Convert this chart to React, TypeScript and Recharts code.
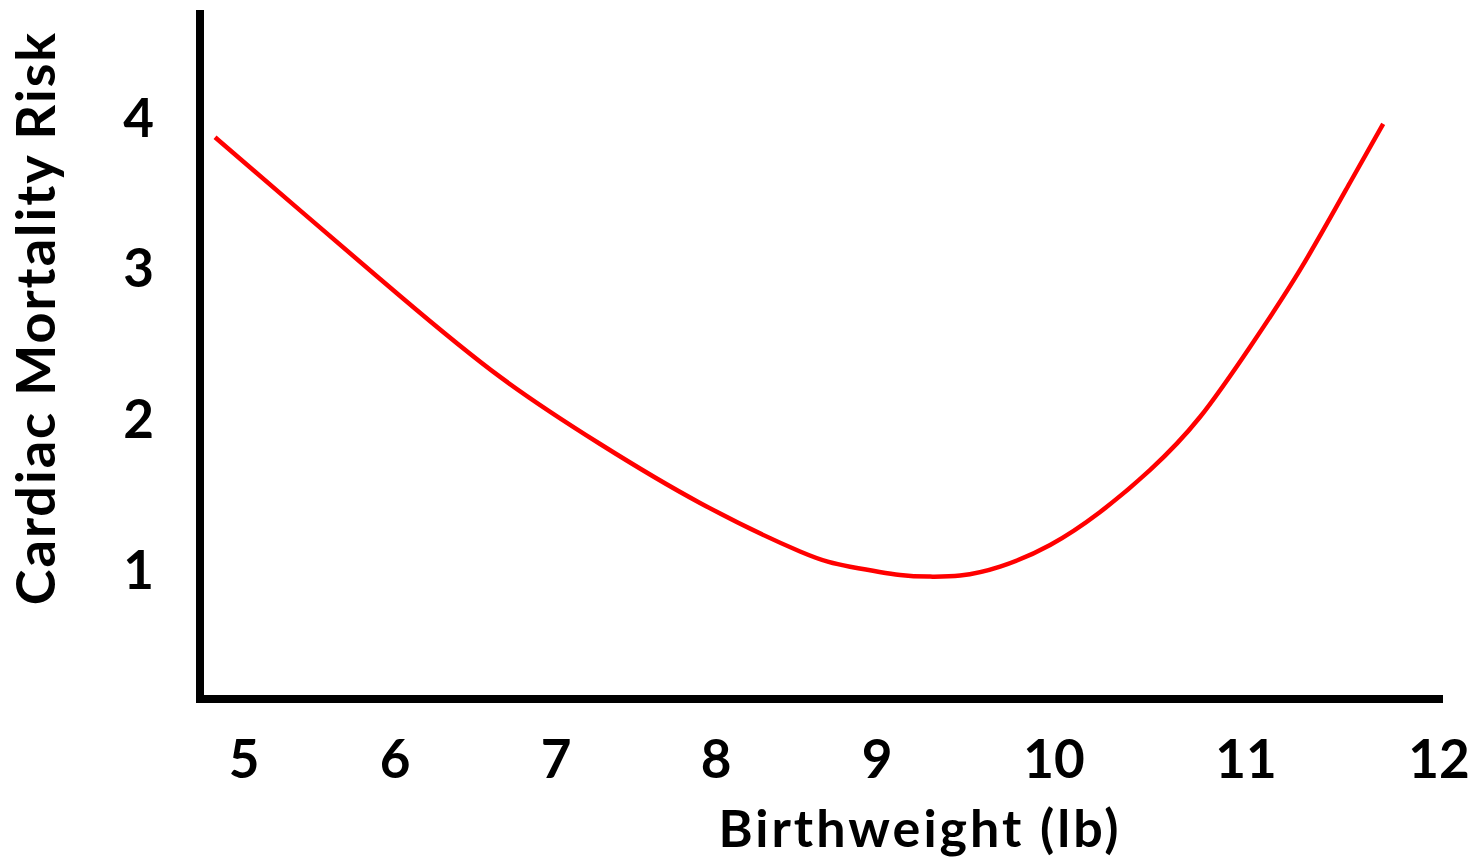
import React from 'react';
import { LineChart, Line, XAxis, YAxis, Label } from 'recharts';

// curve (x in axis units, y = relative risk)
const birthweight = [4.83, 5.328, 5.914, 6.5, 7.086, 7.671, 8.257, 8.55, 8.843, 9.019, 9.195, 9.429, 9.722, 10.015, 10.308, 10.6, 10.893, 11.186, 11.479, 11.673];
const risk = [3.871, 3.386, 2.818, 2.281, 1.836, 1.445, 1.123, 1.022, 0.967, 0.956, 0.963, 1.022, 1.166, 1.385, 1.664, 2.015, 2.48, 2.991, 3.571, 3.96];

// tick labels are hand-placed in the original, so keep where each one sits
const xTickPositions = [5, 5.885, 6.828, 7.765, 8.708, 9.745, 10.87, 12];
const xTickLabels = ['5', '6', '7', '8', '9', '10', '11', '12'];
const yTicks = [1, 2, 3, 4];

const data = birthweight.map((w, i) => ({ w, risk: risk[i] }));

const font = 'Lato, "Open Sans", sans-serif';
const axisLine = { stroke: '#000', strokeWidth: 8, strokeLinecap: 'square' as const };

const XTitle = ({ viewBox }: any) => (
  <text
    x={viewBox.x + 720}
    y={viewBox.y + 148}
    textAnchor="middle"
    fontFamily={font}
    fontWeight={700}
    fontSize={52}
    letterSpacing={3}
    fill="#000"
  >
    Birthweight (lb)
  </text>
);

const YTitle = ({ viewBox }: any) => {
  const x = viewBox.x + 55;
  const y = viewBox.y + 304;
  return (
    <text
      x={x}
      y={y}
      transform={`rotate(-90, ${x}, ${y})`}
      textAnchor="middle"
      fontFamily={font}
      fontWeight={700}
      fontSize={54}
      letterSpacing={2}
      fill="#000"
    >
      Cardiac Mortality Risk
    </text>
  );
};

export default function App() {
  return (
    <div style={{ position: 'absolute', left: 0, top: 0, background: '#fff' }}>
      <LineChart width={1473} height={862} data={data} margin={{ top: 14, right: 34, bottom: 0, left: 0 }}>
        <XAxis
          type="number"
          dataKey="w"
          domain={[4.742, 12]}
          allowDataOverflow
          ticks={xTickPositions}
          interval={0}
          tickFormatter={(v: number) => xTickLabels[xTickPositions.indexOf(v)]}
          tickLine={false}
          tickSize={0}
          tickMargin={41}
          height={163}
          axisLine={axisLine}
          tick={{ fill: '#000', fontSize: 53, fontWeight: 700, fontFamily: font }}
        >
          <Label content={XTitle} />
        </XAxis>
        <YAxis
          type="number"
          domain={[0.144, 4.689]}
          allowDataOverflow
          ticks={yTicks}
          interval={0}
          tickLine={false}
          tickSize={0}
          tickMargin={46}
          width={200}
          axisLine={axisLine}
          tick={{ fill: '#000', fontSize: 53, fontWeight: 700, fontFamily: font }}
        >
          <Label content={YTitle} />
        </YAxis>
        <Line
          type="natural"
          dataKey="risk"
          stroke="#ff0000"
          strokeWidth={4.5}
          dot={false}
          isAnimationActive={false}
        />
      </LineChart>
    </div>
  );
}
